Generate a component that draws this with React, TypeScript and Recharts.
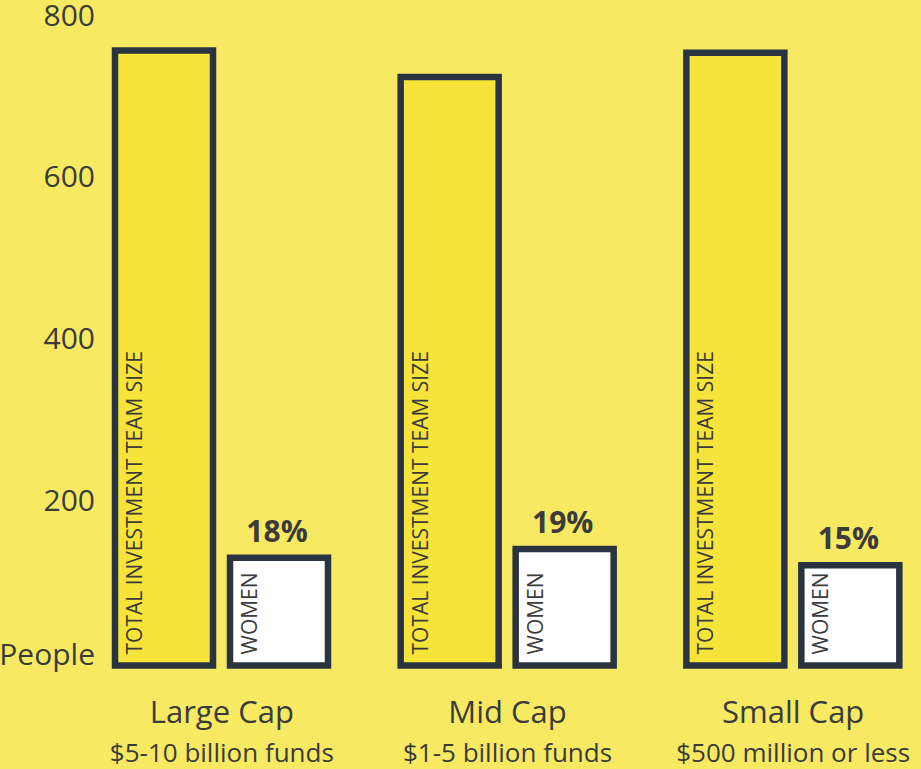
import React from "react"
import { BarChart, Bar, XAxis, YAxis, LabelList } from "recharts"

const categories = ["Large Cap", "Mid Cap", "Small Cap"]
const subtitles = ["$5-10 billion funds", "$1-5 billion funds", "$500 million or less"]
const totalTeam = [760, 727, 757]
const women = [133, 144, 124]
const womenPct = ["18%", "19%", "15%"]
const yTicks = [0, 200, 400, 600, 800]

const BG = "#F7EA62"
const BAR_YELLOW = "#F6E43A"
const STROKE = "#2A3440"
const TEXT = "#3B3B3B"
const FONT = "'Open Sans', 'Noto Sans', sans-serif"

const data = categories.map((name, i) => ({
  name,
  sub: subtitles[i],
  total: totalTeam[i],
  women: women[i],
  pct: womenPct[i],
}))

const YTick = ({ x, y, payload }: any) => {
  const isZero = payload.value === 0
  return (
    <text
      x={x + 16}
      y={isZero ? y - 1 : y + 7.5}
      textAnchor="end"
      fill={TEXT}
      fontSize={30}
      fontFamily={FONT}
    >
      {isZero ? "People" : payload.value}
    </text>
  )
}

const XTick = ({ x, y, index }: any) => (
  <g>
    <text x={x} y={y + 57.5} textAnchor="middle" fill={TEXT} fontSize={31} fontFamily={FONT}>
      {categories[index]}
    </text>
    <text x={x} y={y + 96.5} textAnchor="middle" fill={TEXT} fontSize={26} fontFamily={FONT}>
      {subtitles[index]}
    </text>
  </g>
)

// texte vertical dans la barre
const verticalLabel = (text: string) => (props: any) => {
  const { x, y, height } = props
  const bx = x + 27
  const by = y + height - 11
  return (
    <text
      x={bx}
      y={by}
      transform={`rotate(-90, ${bx}, ${by})`}
      fill={TEXT}
      fontSize={21}
      fontFamily={FONT}
    >
      {text}
    </text>
  )
}

const PctLabel = (props: any) => {
  const { x, y, width, value } = props
  return (
    <text
      x={x + width / 2 - 2}
      y={y - 16}
      textAnchor="middle"
      fill={TEXT}
      fontSize={30}
      fontWeight="bold"
      fontFamily={FONT}
    >
      {value}
    </text>
  )
}

export default function App() {
  return (
    <div
      style={{
        position: "absolute",
        left: 0,
        top: 0,
        width: 921,
        height: 769,
        overflow: "hidden",
        background: BG,
      }}
    >
      <BarChart
        width={936}
        height={769}
        data={data}
        margin={{ top: 18, right: 0, left: 0, bottom: 0 }}
        barSize={98}
        barGap={17}
      >
        <XAxis
          dataKey="name"
          axisLine={false}
          tickLine={false}
          tickSize={0}
          tickMargin={0}
          height={103.5}
          interval={0}
          tick={<XTick />}
        />
        <YAxis
          domain={[0, 800]}
          ticks={yTicks}
          axisLine={false}
          tickLine={false}
          tickSize={0}
          tickMargin={0}
          width={79}
          tick={<YTick />}
        />
        <Bar dataKey="total" fill={BAR_YELLOW} stroke={STROKE} strokeWidth={6.5} isAnimationActive={false}>
          <LabelList dataKey="total" content={verticalLabel("TOTAL INVESTMENT TEAM SIZE")} />
        </Bar>
        <Bar dataKey="women" fill="#FFFFFF" stroke={STROKE} strokeWidth={6.5} isAnimationActive={false}>
          <LabelList dataKey="women" content={verticalLabel("WOMEN")} />
          <LabelList dataKey="pct" content={<PctLabel />} />
        </Bar>
      </BarChart>
    </div>
  )
}
